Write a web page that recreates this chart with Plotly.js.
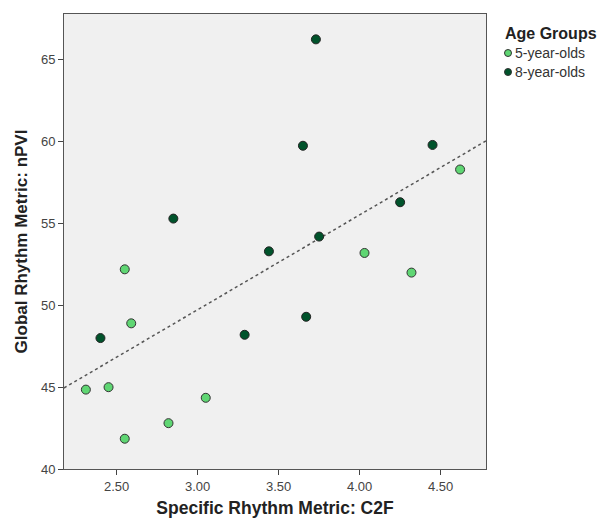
<!DOCTYPE html>
<html><head><meta charset="utf-8">
<script src="https://cdn.plot.ly/plotly-3.0.1.min.js"></script>
<style>body{margin:0;background:#fff}</style>
</head><body><div id="chart" style="width:606px;height:518px"></div>
<script>
const legendTitle = "Age Groups";
const groupNames = ["5-year-olds", "8-year-olds"];
const groupColors = ["#5fd673", "#00532b"];
const x5 = [4.62, 4.03, 4.32, 2.55, 2.59, 2.31, 2.45, 2.55, 2.82, 3.05];
const y5 = [58.3, 53.2, 52.0, 52.2, 48.9, 44.85, 45.0, 41.85, 42.8, 44.35];
const x8 = [3.65, 2.85, 3.44, 3.73, 4.45, 4.25, 3.75, 3.67, 2.40, 3.29];
const y8 = [59.75, 55.3, 53.3, 66.25, 59.8, 56.3, 54.2, 49.3, 48.0, 48.2];
const xRange = [2.175, 4.78];
const yRange = [40, 67.8];
const xTicks = [2.5, 3.0, 3.5, 4.0, 4.5];
const yTicks = [40, 45, 50, 55, 60, 65];

// Fit line (least squares over all points)
const allX = x5.concat(x8), allY = y5.concat(y8);
const n = allX.length;
const mx = allX.reduce((a,b)=>a+b,0)/n, my = allY.reduce((a,b)=>a+b,0)/n;
let sxy=0, sxx=0;
for (let i=0;i<n;i++){ sxy+=(allX[i]-mx)*(allY[i]-my); sxx+=(allX[i]-mx)**2; }
const slope = sxy/sxx, icpt = my - slope*mx;
const fitX = xRange.slice();
const fitY = fitX.map(v => icpt + slope*v);

const font = "Liberation Sans, Arial, sans-serif";
const traces = [
  {x: fitX, y: fitY, mode: "lines", line: {color: "#555", width: 1.5, dash: "dot"}, showlegend: false, hoverinfo: "skip"},
  {x: x5, y: y5, mode: "markers", name: groupNames[0],
   marker: {size: 9, color: groupColors[0], line: {color: "#333", width: 1}}},
  {x: x8, y: y8, mode: "markers", name: groupNames[1],
   marker: {size: 9, color: groupColors[1], line: {color: "#222", width: 1}}}
];

// Custom legend placed in paper coordinates
const L = 64, R = 120, T = 14, B = 49, W = 606, H = 518;
const pw = W - L - R, ph = H - T - B;
const px = v => (v - L) / pw;
const py = v => (H - B - v) / ph;
const annotations = [
  {xref: "paper", yref: "paper", x: px(503), y: py(34), xanchor: "left", yanchor: "middle", showarrow: false,
   text: legendTitle, font: {family: font, size: 16, color: "#222", weight: "bold"}}
];
const shapes = [];
groupNames.forEach((g, i) => {
  const cy = 53 + i * 19;
  annotations.push({xref: "paper", yref: "paper", x: px(513), y: py(cy), xanchor: "left", yanchor: "middle",
    showarrow: false, text: g, font: {family: font, size: 14, color: "#333"}});
  shapes.push({type: "circle", xref: "paper", yref: "paper", xsizemode: "pixel", ysizemode: "pixel",
    xanchor: px(508), yanchor: py(cy), x0: -3.5, x1: 3.5, y0: -3.5, y1: 3.5,
    fillcolor: groupColors[i], line: {color: "#333", width: 1}});
});

const layout = {
  width: W, height: H,
  margin: {l: L, r: R, t: T, b: B},
  paper_bgcolor: "#fff", plot_bgcolor: "#f0f0f0",
  font: {family: font, size: 13, color: "#444"},
  showlegend: false,
  annotations: annotations, shapes: shapes,
  xaxis: {range: xRange, tickvals: xTicks, ticktext: xTicks.map(v=>v.toFixed(2)),
    showgrid: false, zeroline: false, showline: true, linecolor: "#555", linewidth: 1, mirror: true,
    ticks: "outside", ticklen: 5, tickcolor: "#444",
    title: {text: "Specific Rhythm Metric: C2F", font: {family: font, size: 17.5, color: "#222", weight: "bold"}, standoff: 12}},
  yaxis: {range: yRange, tickvals: yTicks, ticktext: yTicks.map(String),
    showgrid: false, zeroline: false, showline: true, linecolor: "#555", linewidth: 1, mirror: true,
    ticks: "outside", ticklen: 5, tickcolor: "#444",
    title: {text: "Global Rhythm Metric: nPVI", font: {family: font, size: 17, color: "#222", weight: "bold"}, standoff: 8}}
};
Plotly.newPlot("chart", traces, layout, {displayModeBar: false, staticPlot: true});
</script></body></html>
